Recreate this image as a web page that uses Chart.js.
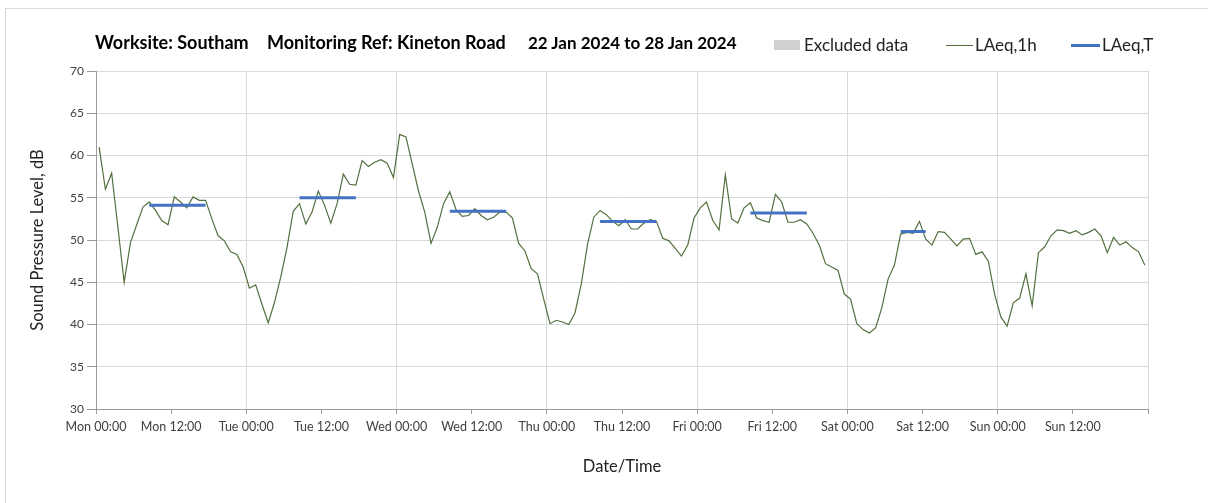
<!DOCTYPE html>
<html>
<head>
<meta charset="utf-8">
<title>Southam - Kineton Road</title>
<script src="https://cdn.jsdelivr.net/npm/chart.js@4.4.1/dist/chart.umd.min.js"></script>
<style>
  html, body { margin: 0; padding: 0; background: #fff; }
  #wrap { position: relative; width: 1208px; height: 503px; overflow: hidden; font-family: Lato, "Open Sans", sans-serif; }
  #frame { position: absolute; left: 5px; top: 8px; width: 1300px; height: 600px; border-left: 1px solid #d9d9d9; border-top: 1px solid #d9d9d9; }
  #chartBox { position: absolute; left: 0; top: 0; width: 1208px; height: 503px; }
  .ttl { position: absolute; top: 31px; font-weight: bold; font-size: 18px; color: #000; white-space: nowrap; }
  .leg { position: absolute; top: 34px; font-size: 17px; color: #222; white-space: nowrap; }
  .sw { position: absolute; }
</style>
</head>
<body>
<div id="wrap">
  <div id="frame"></div>
  <div id="chartBox"><canvas id="noiseChart"></canvas></div>

  <span class="ttl" style="left:95px">Worksite: Southam</span>
  <span class="ttl" style="left:267px">Monitoring Ref: Kineton Road</span>
  <span class="ttl" style="left:528px;top:32px;font-size:17px">22 Jan 2024 to 28 Jan 2024</span>

  <div class="sw" style="left:774px;top:40px;width:26px;height:10px;background:#d0d0d0"></div>
  <span class="leg" style="left:804px">Excluded data</span>
  <div class="sw" style="left:946px;top:45px;width:27px;height:1px;background:#52703f"></div>
  <span class="leg" style="left:975px">LAeq,1h</span>
  <div class="sw" style="left:1071px;top:44px;width:29px;height:3px;background:#4472c4"></div>
  <span class="leg" style="left:1102px">LAeq,T</span>
</div>

<script>
// hourly LAeq,1h values, Mon 22 Jan 00:00 -> Sun 28 Jan 23:00
var mon = [61.0, 56.0, 57.9, 51.5, 45.0, 49.7, 51.8, 53.9, 54.5, 53.5, 52.3, 51.8,
           55.1, 54.5, 53.8, 55.1, 54.7, 54.7, 52.5, 50.5, 49.9, 48.6, 48.3, 46.8];
var tue = [44.3, 44.7, 42.4, 40.2, 42.6, 45.6, 49.1, 53.4, 54.3, 51.9, 53.3, 55.8,
           54.1, 52.0, 54.3, 57.8, 56.6, 56.5, 59.4, 58.7, 59.2, 59.5, 59.1, 57.4];
var wed = [62.5, 62.2, 59.0, 55.8, 53.3, 49.6, 51.5, 54.3, 55.7, 53.6, 52.8, 52.9,
           53.7, 52.9, 52.4, 52.7, 53.3, 53.3, 52.6, 49.6, 48.7, 46.6, 46.0, 43.0];
var thu = [40.1, 40.5, 40.3, 40.0, 41.4, 44.8, 49.5, 52.7, 53.5, 53.0, 52.2, 51.7,
           52.4, 51.3, 51.3, 52.0, 52.4, 52.2, 50.2, 49.9, 49.0, 48.1, 49.4, 52.6];
var fri = [53.8, 54.5, 52.3, 51.2, 57.7, 52.5, 52.0, 53.8, 54.4, 52.6, 52.3, 52.1,
           55.4, 54.5, 52.1, 52.1, 52.4, 51.9, 50.8, 49.4, 47.2, 46.8, 46.4, 43.6];
var sat = [43.0, 40.1, 39.4, 39.0, 39.6, 42.0, 45.4, 47.0, 50.7, 50.9, 50.8, 52.2,
           50.1, 49.4, 51.0, 50.9, 50.1, 49.3, 50.1, 50.2, 48.3, 48.6, 47.5, 43.6];
var sun = [40.9, 39.8, 42.6, 43.1, 46.0, 42.2, 48.5, 49.2, 50.5, 51.2, 51.1, 50.8,
           51.1, 50.6, 50.9, 51.3, 50.5, 48.5, 50.3, 49.4, 49.8, 49.1, 48.6, 47.0];

// LAeq,T periods (hours from Mon 00:00) and levels
var periodStart = [8, 32, 56, 80, 104, 128];
var periodEnd   = [18, 42, 66, 90, 114, 133];
var periodLevel = [54.1, 55.0, 53.4, 52.2, 53.2, 51.0];

var tickLabels = ['Mon 00:00', 'Mon 12:00', 'Tue 00:00', 'Tue 12:00', 'Wed 00:00', 'Wed 12:00',
                  'Thu 00:00', 'Thu 12:00', 'Fri 00:00', 'Fri 12:00', 'Sat 00:00', 'Sat 12:00',
                  'Sun 00:00', 'Sun 12:00'];

var hourly = mon.concat(tue, wed, thu, fri, sat, sun);
var hourlyPts = [];
for (var i = 0; i < hourly.length; i++) {
  hourlyPts.push({ x: i + 0.5, y: hourly[i] });   // plotted at mid-hour
}
var periodPts = [];
for (var j = 0; j < periodStart.length; j++) {
  periodPts.push({ x: periodStart[j] + 0.5, y: periodLevel[j] });
  periodPts.push({ x: periodEnd[j] - 0.5, y: periodLevel[j] });
  periodPts.push({ x: periodEnd[j], y: null });
}

Chart.defaults.font.family = 'Lato, "Open Sans", sans-serif';
Chart.defaults.color = '#404040';

var ctx = document.getElementById('noiseChart');
var noiseChart = new Chart(ctx, {
  type: 'line',
  data: {
    datasets: [
      {
        label: 'LAeq,T',
        data: periodPts,
        borderColor: '#4472c4',
        borderWidth: 3,
        pointRadius: 0,
        spanGaps: false,
        order: 0
      },
      {
        label: 'LAeq,1h',
        data: hourlyPts,
        borderColor: '#52703f',
        borderWidth: 1.2,
        pointRadius: 0,
        tension: 0,
        order: 1
      }
    ]
  },
  options: {
    responsive: true,
    maintainAspectRatio: false,
    animation: false,
    layout: { padding: { left: 20, right: 60, top: 71, bottom: 18 } },
    plugins: {
      legend: { display: false },
      tooltip: { enabled: false }
    },
    scales: {
      x: {
        type: 'linear',
        min: 0,
        max: 168,
        afterFit: function (scale) { scale.height = 76; },
        ticks: {
          stepSize: 12,
          autoSkip: false,
          maxRotation: 0,
          padding: 5,
          font: { size: 12.5 },
          color: '#404040',
          callback: function (v) { return tickLabels[v / 12] || ''; }
        },
        grid: {
          color: function (c) { return c.tick && c.tick.value % 24 === 0 ? '#d9d9d9' : 'rgba(0,0,0,0)'; },
          tickColor: '#9a9a9a',
          tickLength: 5,
          lineWidth: 1
        },
        border: { color: '#9a9a9a', width: 1 },
        title: {
          display: true,
          text: 'Date/Time',
          font: { size: 16.5 },
          color: '#222',
          padding: { top: 0, bottom: 8 }
        }
      },
      y: {
        min: 30,
        max: 70,
        afterFit: function (scale) { scale.width = 76; },
        ticks: {
          stepSize: 5,
          padding: 3,
          font: { size: 12 },
          color: '#404040'
        },
        grid: {
          color: '#d9d9d9',
          tickColor: '#9a9a9a',
          tickLength: 9,
          lineWidth: 1
        },
        border: { color: '#9a9a9a', width: 1 },
        title: {
          display: true,
          text: 'Sound Pressure Level, dB',
          font: { size: 16.5 },
          color: '#222',
          padding: { top: 8, bottom: 0 }
        }
      }
    }
  }
});
</script>
</body>
</html>
